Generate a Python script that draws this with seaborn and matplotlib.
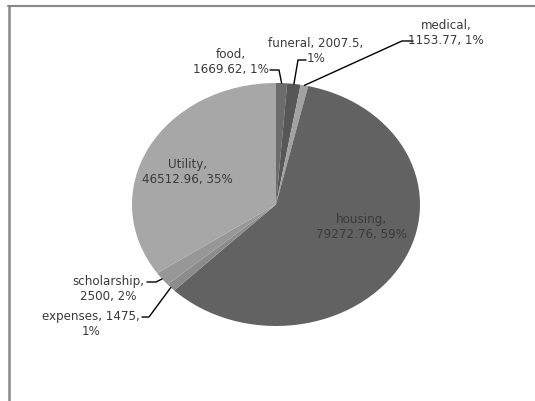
import matplotlib
matplotlib.use("Agg")
import matplotlib.pyplot as plt
import seaborn as sns
from matplotlib.lines import Line2D

sns.set_style("white")
plt.rcParams["font.family"] = ["DejaVu Sans"]

# data
categories = ["food", "funeral", "medical", "housing", "expenses", "scholarship", "Utility"]
amounts = [1669.62, 2007.5, 1153.77, 79272.76, 1475, 2500, 46512.96]
colors = ["#6c6c6c", "#575757", "#a2a2a2", "#626262", "#8c8c8c", "#979797", "#a7a7a7"]
# how many comma-separated parts go on the first label line
first_line_parts = [1, 2, 1, 1, 2, 1, 1]

W, H = 535, 402
CX, CY, RX, RY = 276, 205.5, 144, 121.5   # pie centre and radii in image pixels


def px(x, y):
    """image pixel -> data coords of the unit pie"""
    return (x - CX) / RX, (CY - y) / RY


# label centre (image px) and leader polyline start points (image px), None = inside
label_pos = {
    "food": (231, 62),
    "funeral": (316, 51),
    "medical": (446, 33),
    "housing": (361, 227),
    "expenses": (91, 324),
    "scholarship": (108, 289),
    "Utility": (187, 172),
}
leaders = {
    "food": [(270, 71), (279, 71)],
    "funeral": [(306, 61), (298, 61)],
    "medical": [(413, 42), (402, 42)],
    "expenses": [(142, 318), (149, 318)],
    "scholarship": [(147, 283), (156, 283)],
}

fig = plt.figure(figsize=(W / 100, H / 100), dpi=100)
ax = fig.add_axes([0, 0, 1, 1])

total = sum(amounts)
wedges, _ = ax.pie(amounts, colors=colors, startangle=90, counterclock=False,
                   radius=1, wedgeprops=dict(linewidth=0))
ax.set_aspect("auto")
x0, y1 = px(0, 0)
x1, y0 = px(W, H)
ax.set_xlim(x0, x1)
ax.set_ylim(y0, y1)
ax.axis("off")

import numpy as np

for name, val, w, n1 in zip(categories, amounts, wedges, first_line_parts):
    pct = round(val / total * 100)
    vtxt = f"{val:.2f}".rstrip("0").rstrip(".")
    parts = [f"{name},", f"{vtxt},", f"{pct}%"]
    text = " ".join(parts[:n1]) + "\n" + " ".join(parts[n1:])
    lx, ly = label_pos[name]
    tx, ty = px(lx, ly)
    ax.text(tx, ty, text, ha="center", va="center", fontsize=8.6,
            color="#3a3a3a", linespacing=1.25)
    if name in leaders:
        mid = np.deg2rad((w.theta1 + w.theta2) / 2)
        pts = [px(*p) for p in leaders[name]] + [(np.cos(mid), np.sin(mid))]
        xs, ys = zip(*pts)
        ax.plot(xs, ys, color="black", linewidth=1.0)

# chart-area frame (top and left edges visible)
fig.add_artist(Line2D([8 / W, 1], [1 - 6.5 / H, 1 - 6.5 / H],
                      transform=fig.transFigure, color="#888888", linewidth=1.5))
fig.add_artist(Line2D([8.5 / W, 8.5 / W], [0, 1 - 6.5 / H],
                      transform=fig.transFigure, color="#888888", linewidth=1.8))

fig.savefig("out.png", dpi=100, facecolor="white")
